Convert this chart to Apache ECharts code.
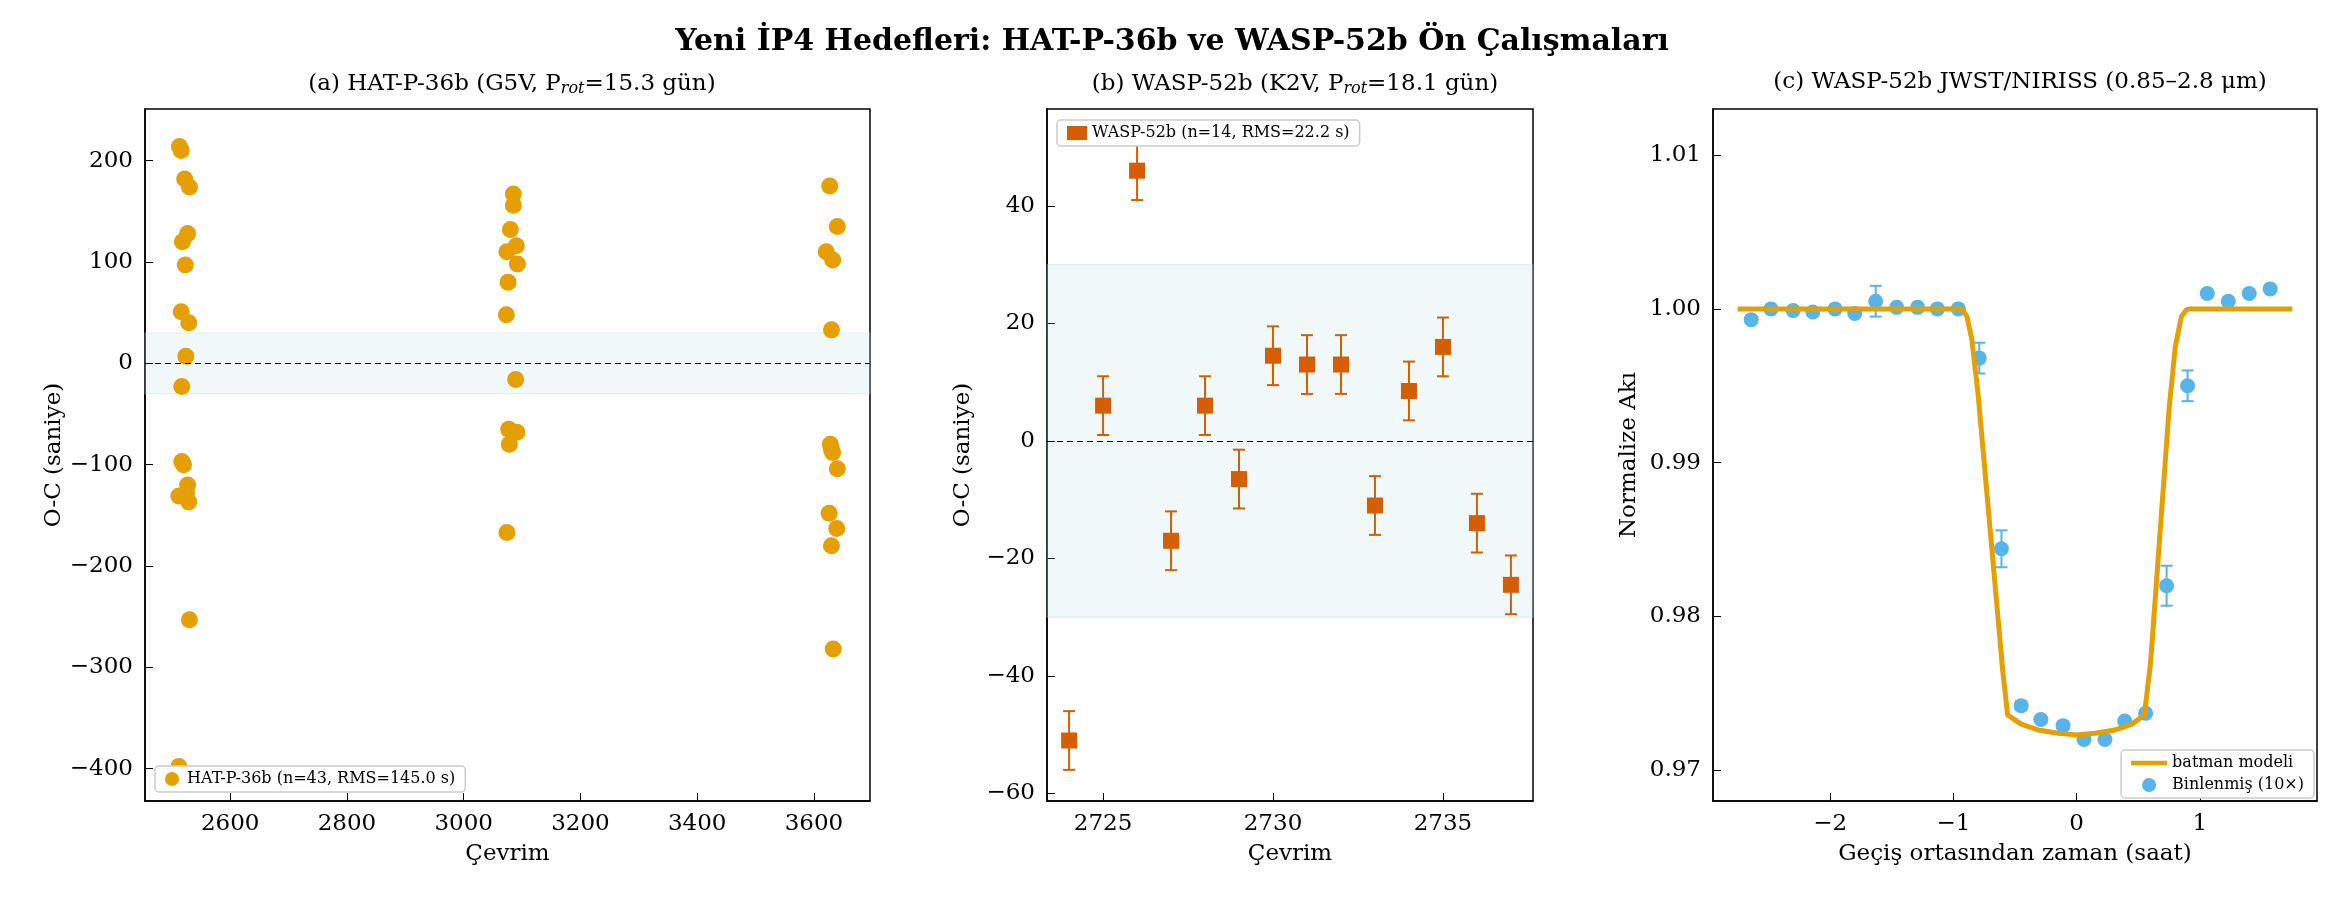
<!DOCTYPE html>
<html>
<head>
<meta charset="utf-8">
<script src="https://cdn.jsdelivr.net/npm/echarts@6/dist/echarts.min.js"></script>
<style>html,body{margin:0;padding:0;background:#fff}#chart{width:2334px;height:898px}</style>
</head>
<body>
<div id="chart"></div>
<script>
// (a) HAT-P-36b O-C
var hatX = [2513,2516,2522,2530,2527,2518,2523,2516,2529,2524,2517,2517,2520,2527,2512,2525,2529,2530,2512,
            3085,3085,3080,3090,3074,3092,3076,3073,3089,3077,3091,3078,3074,
            3627,3640,3621,3632,3630,3628,3630,3632,3640,3626,3639,3630,3633];
var hatY = [214,210,182,174,128,120,97,51,40,7,-23,-97,-100,-120,-131,-128,-137,-253,-398,
            167,156,132,116,110,98,80,48,-16,-65,-68,-80,-167,
            175,135,110,102,33,-80,-85,-88,-104,-148,-163,-180,-282];

// (b) WASP-52b O-C
var waspX = [2724,2725,2726,2727,2728,2729,2730,2731,2732,2733,2734,2735,2736,2737];
var waspY = [-51,6,46,-17,6,-6.5,14.5,13,13,-11,8.5,16,-14,-24.5];
var waspErr = [5,5,5,5,5,5,5,5,5,5,5,5,5,5];

// (c) NIRISS light curve, binned
var binX = [-2.64,-2.48,-2.30,-2.14,-1.96,-1.80,-1.63,-1.46,-1.29,-1.13,-0.96,-0.79,-0.61,-0.45,-0.29,-0.11,0.06,0.23,0.39,0.56,0.73,0.90,1.06,1.23,1.40,1.57];
var binY = [0.9993,1.0000,0.9999,0.9998,1.0000,0.9997,1.0005,1.0001,1.0001,1.0000,1.0000,0.9968,0.9844,0.9742,0.9733,0.9729,0.9720,0.9720,0.9732,0.9737,0.9820,0.9950,1.0010,1.0005,1.0010,1.0013];
var binErr = [0.0002,0.0002,0.0002,0.0002,0.0002,0.0002,0.001,0.0002,0.0002,0.0002,0.0002,0.001,0.0012,0.0003,0.0002,0.0002,0.0002,0.0002,0.0002,0.0002,0.0013,0.001,0.0002,0.0002,0.0002,0.0002];
// model curve
var modelX = [-2.75,-0.93,-0.89,-0.85,-0.80,-0.75,-0.70,-0.65,-0.60,-0.56,-0.45,-0.30,-0.15,0,0.15,0.30,0.45,0.55,0.60,0.65,0.70,0.75,0.80,0.85,0.89,0.92,1.75];
var modelY = [1.0,1.0,0.9995,0.998,0.9945,0.990,0.9855,0.981,0.9765,0.9736,0.9730,0.9726,0.9724,0.9723,0.9724,0.9726,0.9730,0.9736,0.9770,0.9825,0.988,0.9935,0.9975,0.9995,0.99995,1.0,1.0];

var FONT = 'DejaVu Serif';
var zip = function(a, b, c) { return a.map(function(v, i) { return c ? [v, b[i], c[i]] : [v, b[i]]; }); };

function errRender(color, half) {
	return function(params, api) {
		var x = api.value(0), y = api.value(1), e = api.value(2);
		var hi = api.coord([x, y + e]), lo = api.coord([x, y - e]);
		var st = { stroke: color, lineWidth: 2 };
		return { type: 'group', children: [
			{ type: 'line', shape: { x1: hi[0], y1: hi[1], x2: lo[0], y2: lo[1] }, style: st },
			{ type: 'line', shape: { x1: hi[0]-half, y1: hi[1], x2: hi[0]+half, y2: hi[1] }, style: st },
			{ type: 'line', shape: { x1: lo[0]-half, y1: lo[1], x2: lo[0]+half, y2: lo[1] }, style: st }
		]};
	};
}

var plain = function(v) { return String(v).replace('-', '\u2212'); };

function xAx(idx, min, max, name, vals, fmt) {
	return { type: 'value', gridIndex: idx, min: min, max: max, name: name, nameLocation: 'middle', nameGap: 42,
		nameTextStyle: { fontFamily: FONT, fontSize: 23, color: '#000' },
		axisLine: { onZero: false, lineStyle: { color: '#000', width: 1.5 } },
		axisTick: { inside: true, length: 8, customValues: vals, lineStyle: { color: '#000' } },
		axisLabel: { customValues: vals, fontFamily: FONT, fontSize: 23, color: '#000', margin: 12, formatter: fmt || plain },
		splitLine: { show: false } };
}
function yAx(idx, min, max, name, vals, fmt) {
	var a = xAx(idx, min, max, name, vals, fmt);
	a.nameGap = 72;
	return a;
}

var band = function(lo, hi) {
	return { silent: true, itemStyle: { color: 'rgba(173,216,230,0.18)', borderColor: 'rgba(173,216,230,0.4)', borderWidth: 1 }, data: [[{ yAxis: lo }, { yAxis: hi }]] };
};
var zeroLine = { silent: true, symbol: 'none', label: { show: false }, lineStyle: { color: '#000', type: [6, 4], width: 1 }, data: [{ yAxis: 0 }] };

function ttl(text, left) {
	return { text: text, left: left, top: 66, textAlign: 'center',
		textStyle: { fontFamily: FONT, fontSize: 23, fontWeight: 'normal', color: '#000',
			rich: { s: { fontFamily: FONT, fontSize: 16, fontStyle: 'italic', padding: [10, 0, 0, 0] } } } };
}
var legText = { fontFamily: FONT, fontSize: 16, color: '#000' };

var option = {
	animation: false,
	title: [
		{ text: 'Yeni İP4 Hedefleri: HAT-P-36b ve WASP-52b Ön Çalışmaları', left: 1167, top: 22, textAlign: 'center',
		  textStyle: { fontFamily: FONT, fontSize: 30, fontWeight: 'bold', color: '#000' } },
		ttl('(a) HAT-P-36b (G5V, P{s|rot}=15.3 gün)', 507),
		ttl('(b) WASP-52b (K2V, P{s|rot}=18.1 gün)', 1290),
		ttl('(c) WASP-52b JWST/NIRISS (0.85–2.8 μm)', 2015)
	],
	grid: [
		{ left: 145, width: 725, top: 109, height: 692, show: true, borderColor: '#000', borderWidth: 1.5 },
		{ left: 1047, width: 486, top: 109, height: 692, show: true, borderColor: '#000', borderWidth: 1.5 },
		{ left: 1713, width: 604, top: 109, height: 692, show: true, borderColor: '#000', borderWidth: 1.5 }
	],
	xAxis: [
		xAx(0, 2454, 3696, 'Çevrim', [2600, 2800, 3000, 3200, 3400, 3600]),
		xAx(1, 2723.35, 2737.65, 'Çevrim', [2725, 2730, 2735]),
		xAx(2, -2.95, 1.95, 'Geçiş ortasından zaman (saat)', [-2, -1, 0, 1])
	],
	yAxis: [
		yAx(0, -432, 251, 'O-C (saniye)', [-400, -300, -200, -100, 0, 100, 200]),
		yAx(1, -61.3, 56.5, 'O-C (saniye)', [-60, -40, -20, 0, 20, 40]),
		yAx(2, 0.968, 1.013, 'Normalize Akı', [0.97, 0.98, 0.99, 1.0, 1.01], function(v) { return v.toFixed(2); })
	],
	legend: [
		{ left: 155, bottom: 106, orient: 'vertical', data: [{ name: 'HAT-P-36b (n=43, RMS=145.0 s)', icon: 'circle' }],
		  backgroundColor: '#fff', borderColor: '#ccc', borderWidth: 1.5, borderRadius: 4, padding: [5, 10],
		  itemWidth: 20, itemHeight: 14, textStyle: legText },
		{ left: 1057, top: 120, data: [{ name: 'WASP-52b (n=14, RMS=22.2 s)', icon: 'rect' }], backgroundColor: '#fff',
		  borderColor: '#ccc', borderWidth: 1.5, borderRadius: 4, padding: [5, 10], itemWidth: 20, itemHeight: 14,
		  textStyle: legText },
		{ right: 20, bottom: 100, orient: 'vertical',
		  data: [{ name: 'batman modeli', icon: 'path://M0,5h40v5h-40z' }, { name: 'Binlenmiş (10×)', icon: 'circle' }],
		  backgroundColor: '#fff', borderColor: '#ccc', borderWidth: 1.5, borderRadius: 4, padding: [5, 10],
		  itemGap: 6, itemWidth: 36, itemHeight: 14, textStyle: legText }
	],
	series: [
		{ name: 'HAT-P-36b (n=43, RMS=145.0 s)', type: 'scatter', xAxisIndex: 0, yAxisIndex: 0, symbolSize: 17,
		  itemStyle: { color: '#E69F00', opacity: 1 }, data: zip(hatX, hatY),
		  markArea: band(-30, 30), markLine: zeroLine },
		{ name: 'WASP-52b (n=14, RMS=22.2 s)', type: 'custom', xAxisIndex: 1, yAxisIndex: 1,
		  renderItem: errRender('#D55E00', 6), data: zip(waspX, waspY, waspErr), z: 2,
		  itemStyle: { color: '#D55E00' }, markArea: band(-30, 30), markLine: zeroLine },
		{ name: 'WASP-52b (n=14, RMS=22.2 s)', type: 'scatter', xAxisIndex: 1, yAxisIndex: 1, symbol: 'rect', symbolSize: 16,
		  itemStyle: { color: '#D55E00', opacity: 1 }, data: zip(waspX, waspY), z: 3 },
		{ name: 'Binlenmiş (10×)', type: 'custom', xAxisIndex: 2, yAxisIndex: 2,
		  renderItem: errRender('#56B4E9', 6), data: zip(binX, binY, binErr), z: 2, itemStyle: { color: '#56B4E9' } },
		{ name: 'Binlenmiş (10×)', type: 'scatter', xAxisIndex: 2, yAxisIndex: 2, symbolSize: 15,
		  itemStyle: { color: '#56B4E9', opacity: 1 }, data: zip(binX, binY), z: 3 },
		{ name: 'batman modeli', type: 'line', xAxisIndex: 2, yAxisIndex: 2, smooth: false, showSymbol: false,
		  lineStyle: { color: '#E69F00', width: 5 }, itemStyle: { color: '#E69F00' }, data: zip(modelX, modelY), z: 4 }
	]
};

var chart = echarts.init(document.getElementById('chart'));
chart.setOption(option);
</script>
</body>
</html>
